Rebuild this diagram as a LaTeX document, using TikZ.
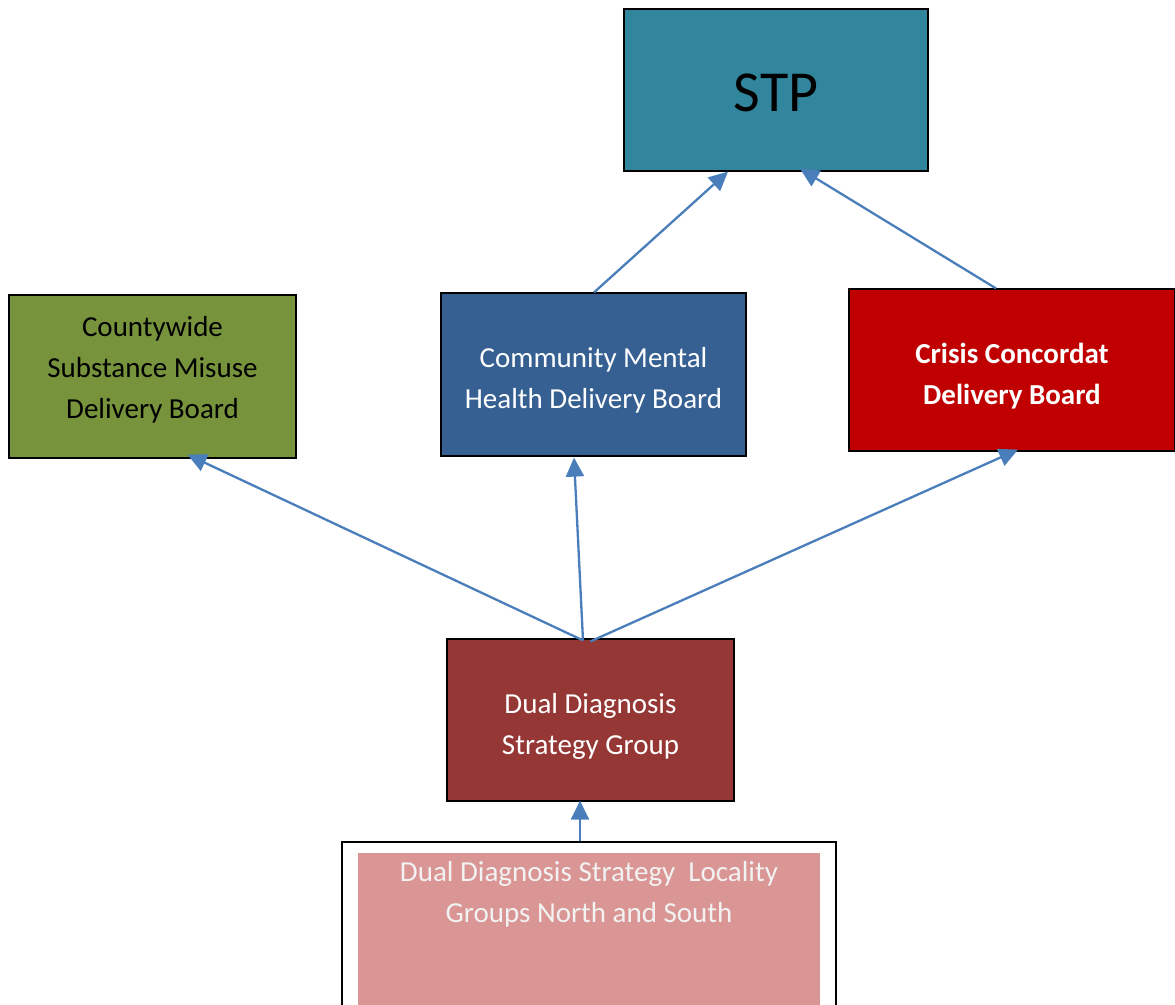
\documentclass[tikz,border=0pt]{standalone}
\usepackage{fontspec}
\setmainfont{Carlito}
\usetikzlibrary{arrows.meta}
\definecolor{stpc}{HTML}{31859C}
\definecolor{greenc}{HTML}{77933C}
\definecolor{bluec}{HTML}{366092}
\definecolor{redc}{HTML}{C00000}
\definecolor{ddc}{HTML}{953735}
\definecolor{pinkc}{HTML}{D99694}
\definecolor{arrc}{HTML}{4A7EBB}
\tikzset{
  boxnode/.style={draw=black, line width=1.2pt, inner sep=0pt},
  txt/.style={align=center, inner sep=0pt, font=\fontsize{29}{41}\selectfont},
  conn/.style={draw=arrc, line width=2.3pt, -{Triangle[length=19pt,width=18pt]}}
}
\begin{document}
\begin{tikzpicture}[x=1pt,y=-1pt]
\useasboundingbox (0,0) rectangle (1175,1004);
% boxes
\node[boxnode, fill=stpc, minimum width=304pt, minimum height=162pt] (stp) at (776,90) {};
\node[txt, font=\fontsize{58}{64}\selectfont] (stpt) at (776,93) {STP};
\node[boxnode, fill=greenc, minimum width=287pt, minimum height=163pt] (green) at (152.5,376.5) {};
\node[txt, text=black] (greent) at (152.5,370) {Countywide\\Substance Misuse\\Delivery Board};
\node[boxnode, fill=bluec, minimum width=305pt, minimum height=163pt] (blue) at (593.5,374.5) {};
\node[txt, text=white] (bluet) at (593.5,380) {Community Mental\\Health Delivery Board};
\node[boxnode, fill=redc, minimum width=326pt, minimum height=162pt] (red) at (1012,370) {};
\node[txt, text=white, font=\fontsize{29}{41}\selectfont\bfseries] (redt) at (1012,376) {Crisis Concordat\\Delivery Board};
\node[boxnode, fill=ddc, minimum width=287pt, minimum height=162pt] (dd) at (590.5,720) {};
\node[txt, text=white] (ddt) at (590.5,726) {Dual Diagnosis\\Strategy Group};
% bottom box
\node[draw=black, line width=1.6pt, fill=white, minimum width=494pt, minimum height=180pt, inner sep=0pt, anchor=north] (outer) at (589,841) {};
\node[fill=pinkc, minimum width=462pt, minimum height=160pt, inner sep=0pt, anchor=north] (pink) at (589,853) {};
\node[txt, text=white!95!black, anchor=north] (pinkt) at (589,861) {Dual Diagnosis Strategy\ \ Locality\\Groups North and South};
% connectors
\draw[conn] ([xshift=0.5pt]blue.north) -- ([xshift=-48pt]stp.south);
\draw[conn] ([xshift=-16pt]red.north) -- ([xshift=24pt,yshift=3pt]stp.south);
\draw[conn] ([xshift=-7.5pt,yshift=-2pt]dd.north) -- ([xshift=35pt,yshift=4pt]green.south);
\draw[conn] ([xshift=-7.5pt,yshift=-2pt]dd.north) -- ([xshift=-19.5pt,yshift=-1pt]blue.south);
\draw[conn] ([xshift=0pt,yshift=-3pt]dd.north) -- ([xshift=6pt,yshift=2pt]red.south);
\draw[conn] ([xshift=-9pt]outer.north) -- ([xshift=-10.5pt,yshift=1pt]dd.south);
\end{tikzpicture}
\end{document}
